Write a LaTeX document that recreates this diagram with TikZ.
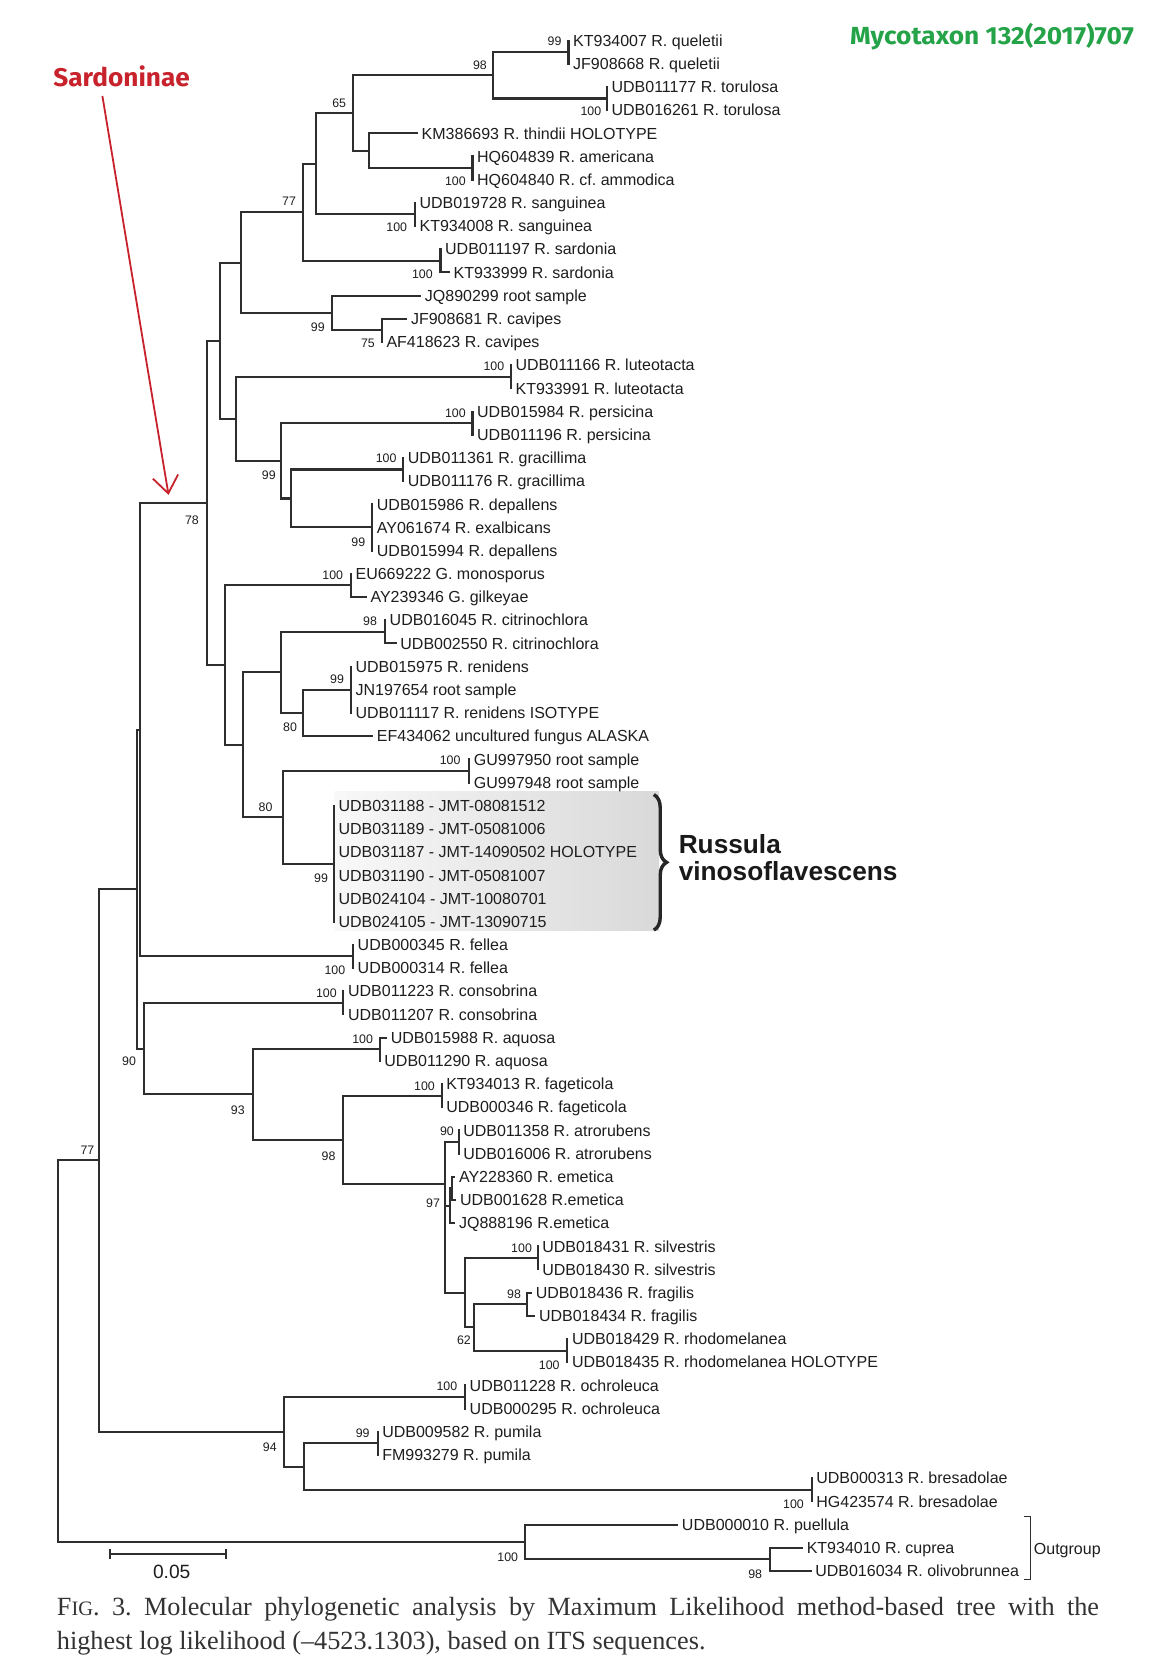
\documentclass[tikz,border=0pt]{standalone}
\usepackage{fontspec}
\usepackage{graphicx}
\usetikzlibrary{arrows.meta,decorations.pathreplacing}
\newfontfamily\treefont{Liberation Sans}
\newfontfamily\capfont{Liberation Serif}
\newfontfamily\headfont{Fira Sans}
\definecolor{treeline}{HTML}{2E2E2E}
\definecolor{txt}{HTML}{1E1E1E}
\definecolor{sred}{HTML}{C8232C}
\definecolor{mgreen}{HTML}{24A348}
\tikzset{
  br/.style={draw=treeline, line width=0.95pt, line cap=rect},
  leaf/.style={anchor=west, inner xsep=2pt, inner ysep=0pt, text height=5.4pt, text depth=0pt,
    font=\treefont\fontsize{7.5}{8}\selectfont, text=txt},
  boot/.style={inner sep=0pt, font=\treefont\fontsize{5.8}{6.5}\selectfont, text=txt},
}
\newcommand\leafn[3]{\node[leaf] (L#1) at (#2,{38+21.74*(#1-1)}) {#3};}
\newcommand\clade[3]{\draw[br] (#1 |- #2) -- (#1 |- #3);}
\newcommand\hb[2]{\draw[br] (#1 |- #2) -- (#2);}
\newcommand\two[3]{\clade{#1}{#2}{#3}\hb{#1}{#2}\hb{#1}{#3}}
\begin{document}
\frenchspacing
\begin{tikzpicture}[x=0.5pt,y=-0.5pt]
\useasboundingbox (0,0) rectangle (1080,1562);
\fill[white] (0,0) rectangle (1080,1562);
% shaded box for the new species
\shade[left color=gray!5, right color=gray!30] (313,742) rectangle (618,872);
% leaves
\leafn{1}{533}{KT934007 R. queletii}
\leafn{2}{533}{JF908668 R. queletii}
\leafn{3}{569}{UDB011177 R. torulosa}
\leafn{4}{569}{UDB016261 R. torulosa}
\leafn{5}{391}{KM386693 R. thindii HOLOTYPE}
\leafn{6}{443}{HQ604839 R. americana}
\leafn{7}{443}{HQ604840 R. cf. ammodica}
\leafn{8}{389}{UDB019728 R. sanguinea}
\leafn{9}{389}{KT934008 R. sanguinea}
\leafn{10}{413}{UDB011197 R. sardonia}
\leafn{11}{421}{KT933999 R. sardonia}
\leafn{12}{394}{JQ890299 root sample}
\leafn{13}{381}{JF908681 R. cavipes}
\leafn{14}{358}{AF418623 R. cavipes}
\leafn{15}{479}{UDB011166 R. luteotacta}
\leafn{16}{479}{KT933991 R. luteotacta}
\leafn{17}{443}{UDB015984 R. persicina}
\leafn{18}{443}{UDB011196 R. persicina}
\leafn{19}{378}{UDB011361 R. gracillima}
\leafn{20}{378}{UDB011176 R. gracillima}
\leafn{21}{349}{UDB015986 R. depallens}
\leafn{22}{349}{AY061674 R. exalbicans}
\leafn{23}{349}{UDB015994 R. depallens}
\leafn{24}{329}{EU669222 G. monosporus}
\leafn{25}{343}{AY239346 G. gilkeyae}
\leafn{26}{361}{UDB016045 R. citrinochlora}
\leafn{27}{371}{UDB002550 R. citrinochlora}
\leafn{28}{329}{UDB015975 R. renidens}
\leafn{29}{329}{JN197654 root sample}
\leafn{30}{329}{UDB011117 R. renidens ISOTYPE}
\leafn{31}{349}{EF434062 uncultured fungus ALASKA}
\leafn{32}{440}{GU997950 root sample}
\leafn{33}{440}{GU997948 root sample}
\leafn{34}{313}{UDB031188 - JMT-08081512}
\leafn{35}{313}{UDB031189 - JMT-05081006}
\leafn{36}{313}{UDB031187 - JMT-14090502 HOLOTYPE}
\leafn{37}{313}{UDB031190 - JMT-05081007}
\leafn{38}{313}{UDB024104 - JMT-10080701}
\leafn{39}{313}{UDB024105 - JMT-13090715}
\leafn{40}{331}{UDB000345 R. fellea}
\leafn{41}{331}{UDB000314 R. fellea}
\leafn{42}{322}{UDB011223 R. consobrina}
\leafn{43}{322}{UDB011207 R. consobrina}
\leafn{44}{362}{UDB015988 R. aquosa}
\leafn{45}{356}{UDB011290 R. aquosa}
\leafn{46}{414}{KT934013 R. fageticola}
\leafn{47}{414}{UDB000346 R. fageticola}
\leafn{48}{430}{UDB011358 R. atrorubens}
\leafn{49}{430}{UDB016006 R. atrorubens}
\leafn{50}{426}{AY228360 R. emetica}
\leafn{51}{427}{UDB001628 R.emetica}
\leafn{52}{426}{JQ888196 R.emetica}
\leafn{53}{504}{UDB018431 R. silvestris}
\leafn{54}{504}{UDB018430 R. silvestris}
\leafn{55}{498}{UDB018436 R. fragilis}
\leafn{56}{501}{UDB018434 R. fragilis}
\leafn{57}{532}{UDB018429 R. rhodomelanea}
\leafn{58}{532}{UDB018435 R. rhodomelanea HOLOTYPE}
\leafn{59}{436}{UDB011228 R. ochroleuca}
\leafn{60}{436}{UDB000295 R. ochroleuca}
\leafn{61}{354}{UDB009582 R. pumila}
\leafn{62}{354}{FM993279 R. pumila}
\leafn{63}{761}{UDB000313 R. bresadolae}
\leafn{64}{761}{HG423574 R. bresadolae}
\leafn{65}{635}{UDB000010 R. puellula}
\leafn{66}{752}{KT934010 R. cuprea}
\leafn{67}{760}{UDB016034 R. olivobrunnea}
% internal nodes
\coordinate (Nq) at (533,48.87);
\coordinate (Nt) at (569,92.35);
\coordinate (N98) at (462,70.61);
\coordinate (Na2) at (443,157.57);
\coordinate (Nk) at (346,141.27);
\coordinate (N65) at (331,105.94);
\coordinate (Ns) at (389,201.05);
\coordinate (Nx) at (296,153.5);
\coordinate (Nsd) at (413,244.53);
\coordinate (N77) at (284,199.0);
\coordinate (Nc) at (358,309.75);
\coordinate (N99c) at (311,293.45);
\coordinate (Nb) at (226,246.2);
\coordinate (Nl) at (479,353.23);
\coordinate (Np) at (443,396.71);
\coordinate (Ng) at (378,440.19);
\coordinate (Nd) at (349,494.54);
\coordinate (Ngd) at (273,467.37);
\coordinate (N99p) at (263,432.04);
\coordinate (Nlp) at (221,392.64);
\coordinate (Nbl) at (206,319.42);
\coordinate (Ngm) at (329,548.89);
\coordinate (Nci) at (361,592.37);
\coordinate (Nr) at (329,646.72);
\coordinate (N80a) at (284,668.46);
\coordinate (Nci2) at (263,630.42);
\coordinate (Ngu) at (440,722.81);
\coordinate (Nv) at (313,809.77);
\coordinate (N80b) at (265,766.29);
\coordinate (Nrg) at (228,698.36);
\coordinate (Ngr) at (211,623.63);
\coordinate (N78) at (194,471.5);
\coordinate (Nf) at (331,896.73);
\coordinate (Nq2) at (131,684.1);
\coordinate (Nco) at (322,940.21);
\coordinate (Naq) at (356,983.69);
\coordinate (Nfa) at (414,1027.17);
\coordinate (Nat) at (430,1070.65);
\coordinate (Nem1) at (424,1114.13);
\coordinate (Nem) at (422,1130.44);
\coordinate (Nsv) at (504,1179.35);
\coordinate (Nfr) at (494,1222.83);
\coordinate (Nrh) at (532,1266.31);
\coordinate (N62) at (444,1244.57);
\coordinate (Nsf) at (436,1211.96);
\coordinate (N97) at (417,1110);
\coordinate (N98b) at (322,1068.6);
\coordinate (N93) at (237,1026.1);
\coordinate (N90) at (135,983.2);
\coordinate (Np2) at (128,833.6);
\coordinate (No) at (436,1309.79);
\coordinate (Npu) at (354,1353.27);
\coordinate (Nbr) at (761,1396.75);
\coordinate (Npb) at (285,1375.01);
\coordinate (N94) at (266,1342.4);
\coordinate (N77b) at (93,1088.0);
\coordinate (Nout2) at (722,1461.97);
\coordinate (N100o) at (492,1445.67);
\coordinate (Root) at (54,1267);
% branches
\clade{Nq}{L1.west}{L2.west}
\clade{Nt}{L3.west}{L4.west}
\two{N98}{Nq}{Nt}
\clade{Na2}{L6.west}{L7.west}
\two{Nk}{L5.west}{Na2}
\two{N65}{N98}{Nk}
\clade{Ns}{L8.west}{L9.west}
\two{Nx}{N65}{Ns}
\clade{Nsd}{L10.west}{L11.west}\hb{Nsd}{L11.west}
\two{N77}{Nx}{Nsd}
\clade{Nc}{L13.west}{L14.west}\hb{Nc}{L13.west}
\two{N99c}{L12.west}{Nc}
\two{Nb}{N77}{N99c}
\clade{Nl}{L15.west}{L16.west}
\clade{Np}{L17.west}{L18.west}
\clade{Ng}{L19.west}{L20.west}
\clade{Nd}{L21.west}{L23.west}
\two{Ngd}{Ng}{Nd}
\two{N99p}{Np}{Ngd}
\two{Nlp}{Nl}{N99p}
\two{Nbl}{Nb}{Nlp}
\clade{Ngm}{L24.west}{L25.west}\hb{Ngm}{L25.west}
\clade{Nci}{L26.west}{L27.west}\hb{Nci}{L27.west}
\clade{Nr}{L28.west}{L30.west}
\two{N80a}{Nr}{L31.west}
\two{Nci2}{Nci}{N80a}
\clade{Ngu}{L32.west}{L33.west}
\clade{Nv}{L34.west}{L39.west}
\two{N80b}{Ngu}{Nv}
\two{Nrg}{Nci2}{N80b}
\two{Ngr}{Ngm}{Nrg}
\two{N78}{Nbl}{Ngr}
\clade{Nf}{L40.west}{L41.west}
\two{Nq2}{N78}{Nf}
\clade{Nco}{L42.west}{L43.west}
\clade{Naq}{L44.west}{L45.west}\hb{Naq}{L44.west}
\clade{Nfa}{L46.west}{L47.west}
\clade{Nat}{L48.west}{L49.west}
\two{Nem1}{L50.west}{L51.west}
\two{Nem}{Nem1}{L52.west}
\clade{Nsv}{L53.west}{L54.west}
\two{Nfr}{L55.west}{L56.west}
\clade{Nrh}{L57.west}{L58.west}
\two{N62}{Nfr}{Nrh}
\two{Nsf}{Nsv}{N62}
\two{N97}{Nat}{Nsf}\hb{N97}{Nem}
\two{N98b}{Nfa}{N97}
\two{N93}{Naq}{N98b}
\two{N90}{Nco}{N93}
\two{Np2}{Nq2}{N90}
\clade{No}{L59.west}{L60.west}
\clade{Npu}{L61.west}{L62.west}
\clade{Nbr}{L63.west}{L64.west}
\two{Npb}{Npu}{Nbr}
\two{N94}{No}{Npb}
\two{N77b}{Np2}{N94}
\two{Nout2}{L66.west}{L67.west}
\two{N100o}{L65.west}{Nout2}
\two{Root}{N77b}{N100o}
% bootstrap values
\node[boot] (b1) at (520,39) {99};
\node[boot] (b2) at (450,61) {98};
\node[boot] (b3) at (554,104) {100};
\node[boot] (b4) at (318,97) {65};
\node[boot] (b5) at (427,170) {100};
\node[boot] (b6) at (372,213) {100};
\node[boot] (b7) at (271,189) {77};
\node[boot] (b8) at (396,257) {100};
\node[boot] (b9) at (298,307) {99};
\node[boot] (b10) at (345,322) {75};
\node[boot] (b11) at (463,343) {100};
\node[boot] (b12) at (427,387) {100};
\node[boot] (b13) at (362,430) {100};
\node[boot] (b14) at (252,446) {99};
\node[boot] (b15) at (336,508) {99};
\node[boot] (b16) at (180,488) {78};
\node[boot] (b17) at (312,539) {100};
\node[boot] (b18) at (347,582) {98};
\node[boot] (b19) at (316,637) {99};
\node[boot] (b20) at (272,682) {80};
\node[boot] (b21) at (422,713) {100};
\node[boot] (b22) at (249,757) {80};
\node[boot] (b23) at (301,823) {99};
\node[boot] (b24) at (314,910) {100};
\node[boot] (b25) at (306,931) {100};
\node[boot] (b26) at (340,974) {100};
\node[boot] (b27) at (121,995) {90};
\node[boot] (b28) at (398,1018) {100};
\node[boot] (b29) at (223,1041) {93};
\node[boot] (b30) at (419,1061) {90};
\node[boot] (b31) at (308,1084) {98};
\node[boot] (b32) at (406,1128) {97};
\node[boot] (b33) at (489,1170) {100};
\node[boot] (b34) at (482,1213) {98};
\node[boot] (b35) at (435,1257) {62};
\node[boot] (b36) at (515,1280) {100};
\node[boot] (b37) at (82,1078) {77};
\node[boot] (b38) at (419,1300) {100};
\node[boot] (b39) at (340,1344) {99};
\node[boot] (b40) at (253,1357) {94};
\node[boot] (b41) at (744,1410) {100};
\node[boot] (b42) at (476,1460) {100};
\node[boot] (b43) at (708,1476) {98};
% species brace and name
\draw[decorate, decoration={brace, amplitude=6pt, aspect=0.5}, line width=1.6pt, draw=black!85] (613,745) -- (613,872);
\node[anchor=west, align=left, inner sep=0pt, text=black!90, font=\treefont\bfseries\fontsize{12.3}{12.6}\selectfont] (rv) at (636,804) {Russula\\vinosoflavescens};
% outgroup bracket
\draw[draw=treeline, line width=0.7pt] (960,1422) -- (966,1422) -- (966,1481) -- (960,1481);
\node[leaf] (outg) at (965,1452) {Outgroup};
% scale bar
\coordinate (sb1) at (103,1457);
\coordinate (sb2) at (212,1457);
\draw[br, line width=0.8pt] (sb1) -- (sb2);
\draw[br, line width=0.7pt] ([yshift=2pt]sb1) -- ([yshift=-2pt]sb1);
\draw[br, line width=0.7pt] ([yshift=2pt]sb2) -- ([yshift=-2pt]sb2);
\node[inner sep=0pt, text=txt, font=\treefont\fontsize{9}{10}\selectfont] (sbl) at (161,1474) {0.05};
% header and annotation
\node[inner sep=0pt, text=mgreen] (myco) at (930,34) {\resizebox{133pt}{\height}{\headfont\bfseries\fontsize{11.6}{12}\selectfont Mycotaxon 132(2017)707}};
\node[inner sep=0pt, text=sred] (sard) at (114,72) {\resizebox{64pt}{\height}{\headfont\bfseries\fontsize{12}{13}\selectfont Sardoninae}};
\coordinate (sardstart) at (96,90);
\coordinate (sardtip) at (158,464);
\draw[draw=sred, line width=0.85pt, -{Straight Barb[length=8pt,width=12pt,line width=0.85pt]}] (sardstart) -- (sardtip);
% caption
\node[anchor=west, inner sep=0pt, text=black!80, font=\capfont\fontsize{12.3}{14}\selectfont] (cap1) at (53,1509) {\makebox[488.5pt][s]{F{\fontsize{9.6}{10}\selectfont IG}. 3. Molecular phylogenetic analysis by Maximum Likelihood method-based tree with the}};
\node[anchor=west, inner sep=0pt, text=black!80, font=\capfont\fontsize{12.3}{14}\selectfont] (cap2) at (53,1541) {highest log likelihood (–4523.1303), based on ITS sequences.};
\end{tikzpicture}
\end{document}
